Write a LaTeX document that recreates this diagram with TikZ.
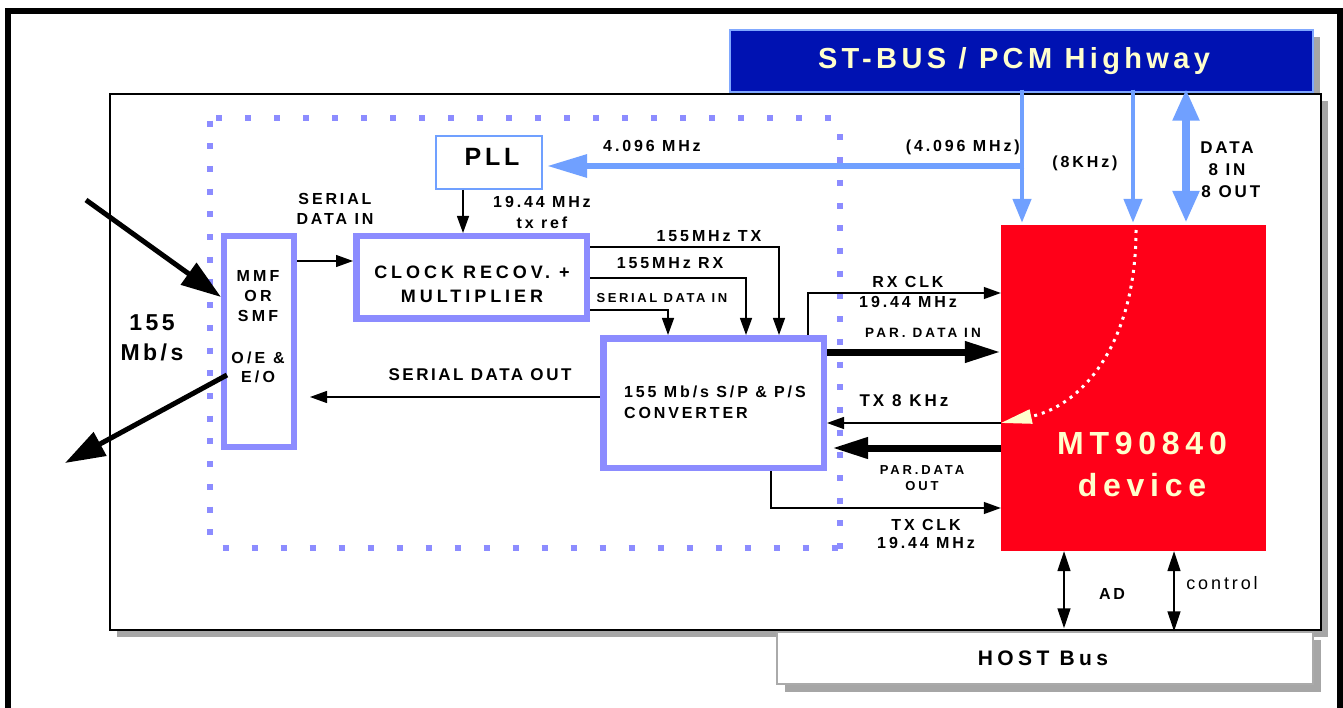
\documentclass[tikz,border=0pt]{standalone}
\usepackage{fontspec}
\setmainfont{Liberation Sans}
\usetikzlibrary{arrows.meta}
\definecolor{dkblue}{RGB}{0,18,178}
\definecolor{stline}{RGB}{128,168,255}
\definecolor{ltblue}{RGB}{112,160,255}
\definecolor{boxblue}{RGB}{140,140,255}
\definecolor{redbox}{RGB}{255,0,24}
\definecolor{cream}{RGB}{255,255,204}
\definecolor{shadowc}{RGB}{166,166,166}
\definecolor{hostline}{RGB}{170,170,170}
\newcommand\fsz[3]{\fontsize{#1}{#2}\selectfont\bfseries\addfontfeature{LetterSpace=#3}}
\newcommand\fszr[3]{\fontsize{#1}{#2}\selectfont\mdseries\addfontfeature{LetterSpace=#3}}
\begin{document}
\begin{tikzpicture}[x=1pt,y=-1pt,
  lab/.style={inner sep=0pt, align=center, font=\fsz{16}{20}{18}},
  bbox/.style={draw=boxblue, fill=white, inner sep=0pt, line width=6.5pt},
  arr/.style={line width=1.3pt, -{Triangle[length=17pt,width=12pt]}},
  dbl/.style={line width=1.5pt, {Triangle[length=20pt,width=13pt]}-{Triangle[length=20pt,width=13pt]}},
  fatarr/.style={line width=7pt, -{Triangle[length=36pt,width=20pt]}},
  diag/.style={line width=5pt, -{Triangle[length=40pt,width=26pt]}},
  blarr/.style={draw=ltblue, line width=4.5pt, -{Triangle[length=24pt,width=18pt]}},
  blbig/.style={draw=ltblue, line width=6pt, -{Triangle[length=40pt,width=22pt]}},
  bldbl/.style={draw=ltblue, line width=8pt, {Triangle[length=32pt,width=25pt]}-{Triangle[length=32pt,width=25pt]}},
  hdots/.style={draw=boxblue, line width=6pt, dash pattern=on 6pt off 23pt},
  vdots/.style={draw=boxblue, line width=6pt, dash pattern=on 6pt off 16.7pt}
]
\useasboundingbox (0,0) rectangle (1343,708);

% outer frame
\draw[line width=6pt] (8,720) -- (8,11) -- (1340,11) -- (1340,720);

% shadows
\fill[shadowc] (737,37) rectangle (1320,99);
\fill[shadowc] (117,101) rectangle (1328,637);
\fill[shadowc] (785,640) rectangle (1321,692);

% ST-BUS
\node[draw=stline, line width=1.5pt, fill=dkblue, inner sep=0pt, minimum width=583pt, minimum height=62pt] (stbus) at (1021.5,61) {};
\node[inner sep=0pt, text=cream, font=\fsz{29}{30}{15}] (sttxt) at (1014,61) {ST-BUS / PCM Highway};

% board
\node[draw=black, line width=1.5pt, fill=white, inner sep=0pt, minimum width=1211pt, minimum height=536pt] (board) at (715.5,362) {};

% host bus
\node[draw=hostline, line width=1.5pt, fill=white, inner sep=0pt, minimum width=536pt, minimum height=52pt] (host) at (1045,658) {};
\node[lab, font=\fsz{21}{22}{21}] (hosttxt) at (1043,658) {HOST Bus};

% dotted frame
\draw[hdots] (216,118) -- (842,118);
\draw[hdots] (222.6,547.5) -- (842,547.5);
\draw[vdots] (210,120.6) -- (210,550);
\draw[vdots] (840,134.5) -- (840,550);

% blocks
\node[draw=ltblue, fill=white, line width=2pt, inner sep=0pt, minimum width=106pt, minimum height=53pt] (pll) at (489,162.5) {};
\node[lab, font=\fsz{25}{27}{15}] (plltxt) at (492,157) {PLL};
\node[bbox, minimum width=230.5pt, minimum height=82.5pt] (clk) at (471.5,277.5) {};
\node[lab, font=\fsz{18}{24}{22}] (clktxt) at (472,284) {CLOCK RECOV. +\\MULTIPLIER};
\node[bbox, line width=6pt, minimum width=70pt, minimum height=211pt] (mmf) at (259,341.5) {};
\node[lab, font=\fsz{16}{20}{20}] (mmftxt1) at (258,296) {MMF\\OR\\SMF};
\node[lab, font=\fsz{16}{19}{20}] (mmftxt2) at (258,367.5) {O/E \&\\E/O};
\node[bbox, minimum width=220.5pt, minimum height=129.5pt] (conv) at (713.5,403) {};
\node[lab, align=left, anchor=west, font=\fsz{16}{21}{18}] (convtxt) at (624,402.5) {155 Mb/s S/P \& P/S\\CONVERTER};
\node[fill=redbox, inner sep=0pt, minimum width=265pt, minimum height=326pt] (red) at (1133.5,388) {};
\node[lab, text=cream, font=\fsz{32}{42}{18}] (redtxt) at (1142,464) {MT90840\\device};

% labels
\node[lab, font=\fsz{23}{30}{15}] (rate) at (152,338) {155\\Mb/s};
\node[lab] (sdin) at (335,209) {SERIAL\\DATA IN};
\node[lab, font=\fsz{16}{21}{18}] (txref) at (542,212.5) {19.44 MHz\\tx ref};
\node[lab] (f4a) at (652,146) {4.096 MHz};
\node[lab, anchor=east] (f4b) at (1020,147) {(4.096 MHz)};
\node[lab] (f8k) at (1085,163) {(8KHz)};
\node[lab, font=\fsz{17}{22}{17}] (data) at (1227,170) {DATA\\8 IN\\\ 8 OUT};
\node[lab] (l155tx) at (709,236) {155MHz TX};
\node[lab] (l155rx) at (670,263) {155MHz RX};
\node[lab, font=\fsz{13}{16}{20}] (sdin2) at (662,298) {SERIAL DATA IN};
\node[lab] (rxclk) at (908,292) {RX CLK\\19.44 MHz};
\node[lab, font=\fsz{13.5}{16}{23}] (pdin) at (923,333) {PAR. DATA IN};
\node[lab, font=\fsz{17}{20}{18}] (tx8k) at (904,401) {TX 8 KHz};
\node[lab, font=\fsz{13}{16}{22}] (pdout) at (922,478) {PAR.DATA\\OUT};
\node[lab, font=\fsz{16}{18}{18}] (txclk) at (926,534) {TX CLK\\19.44 MHz};
\node[lab, font=\fsz{17}{20}{15}] (sdout) at (480,375) {SERIAL DATA OUT};
\node[lab] (adtxt) at (1112,594) {AD};
\node[lab, font=\fszr{18}{20}{16}] (ctltxt) at (1222,583) {control};

% connectors
\coordinate (fin) at (86,200);
\coordinate (fout) at (65,463);
\draw[diag] (fin) -- ([yshift=44.5pt]mmf.west);
\draw[diag] ([xshift=6pt,yshift=-33.5pt]mmf.west) -- (fout);

\coordinate (hA) at (0,261);
\draw[arr] (mmf.east |- hA) -- (clk.west |- hA);
\coordinate (pd) at (463,0);
\draw[arr] (pll.south -| pd) -- (clk.north -| pd);

\coordinate (t1) at (779,247);
\coordinate (t2) at (746,278);
\coordinate (t3) at (668,310);
\draw[arr] (clk.east |- t1) -| (conv.north -| t1);
\draw[arr] (clk.east |- t2) -| (conv.north -| t2);
\draw[arr] (clk.east |- t3) -| (conv.north -| t3);

\coordinate (rk) at (808,293);
\draw[arr] (conv.north -| rk) |- (red.west |- rk);
\coordinate (pi) at (0,352);
\draw[fatarr] (conv.east |- pi) -- (red.west |- pi);
\coordinate (t8) at (0,423);
\draw[arr] (red.west |- t8) -- (conv.east |- t8);
\coordinate (po) at (0,448);
\draw[fatarr, shorten >=5pt] (red.west |- po) -- (conv.east |- po);
\coordinate (tc) at (771,508);
\draw[arr] (conv.south -| tc) |- (red.west |- tc);
\coordinate (so) at (0,397);
\draw[arr, shorten >=13pt] (conv.west |- so) -- (mmf.east |- so);

\coordinate (c4) at (1022,166);
\draw[blarr, shorten <=-3pt, shorten >=2pt] (stbus.south -| c4) -- (red.north -| c4);
\draw[blbig, shorten >=4pt] ([xshift=2.25pt]c4) -- (pll.east |- c4);
\coordinate (k8) at (1133,0);
\draw[blarr, shorten <=-3pt, shorten >=2pt] (stbus.south -| k8) -- (red.north -| k8);
\coordinate (d8) at (1186,0);
\draw[bldbl, shorten <=-4pt, shorten >=2pt] (stbus.south -| d8) -- (red.north -| d8);

\coordinate (ad) at (1064,0);
\draw[dbl, shorten >=3pt] (red.south -| ad) -- (host.north -| ad);
\coordinate (ct) at (1174,0);
\draw[dbl] (red.south -| ct) -- (host.north -| ct);

% white dotted curve
\coordinate (cs) at (1136,230);
\coordinate (ce) at (0,423);
\draw[white, line width=3pt, dash pattern=on 3pt off 5pt, -{Triangle[length=31pt,width=14pt,color=cream]}] (cs) .. controls (1136,340) and (1085,405) .. (red.west |- ce);
\end{tikzpicture}
\end{document}
